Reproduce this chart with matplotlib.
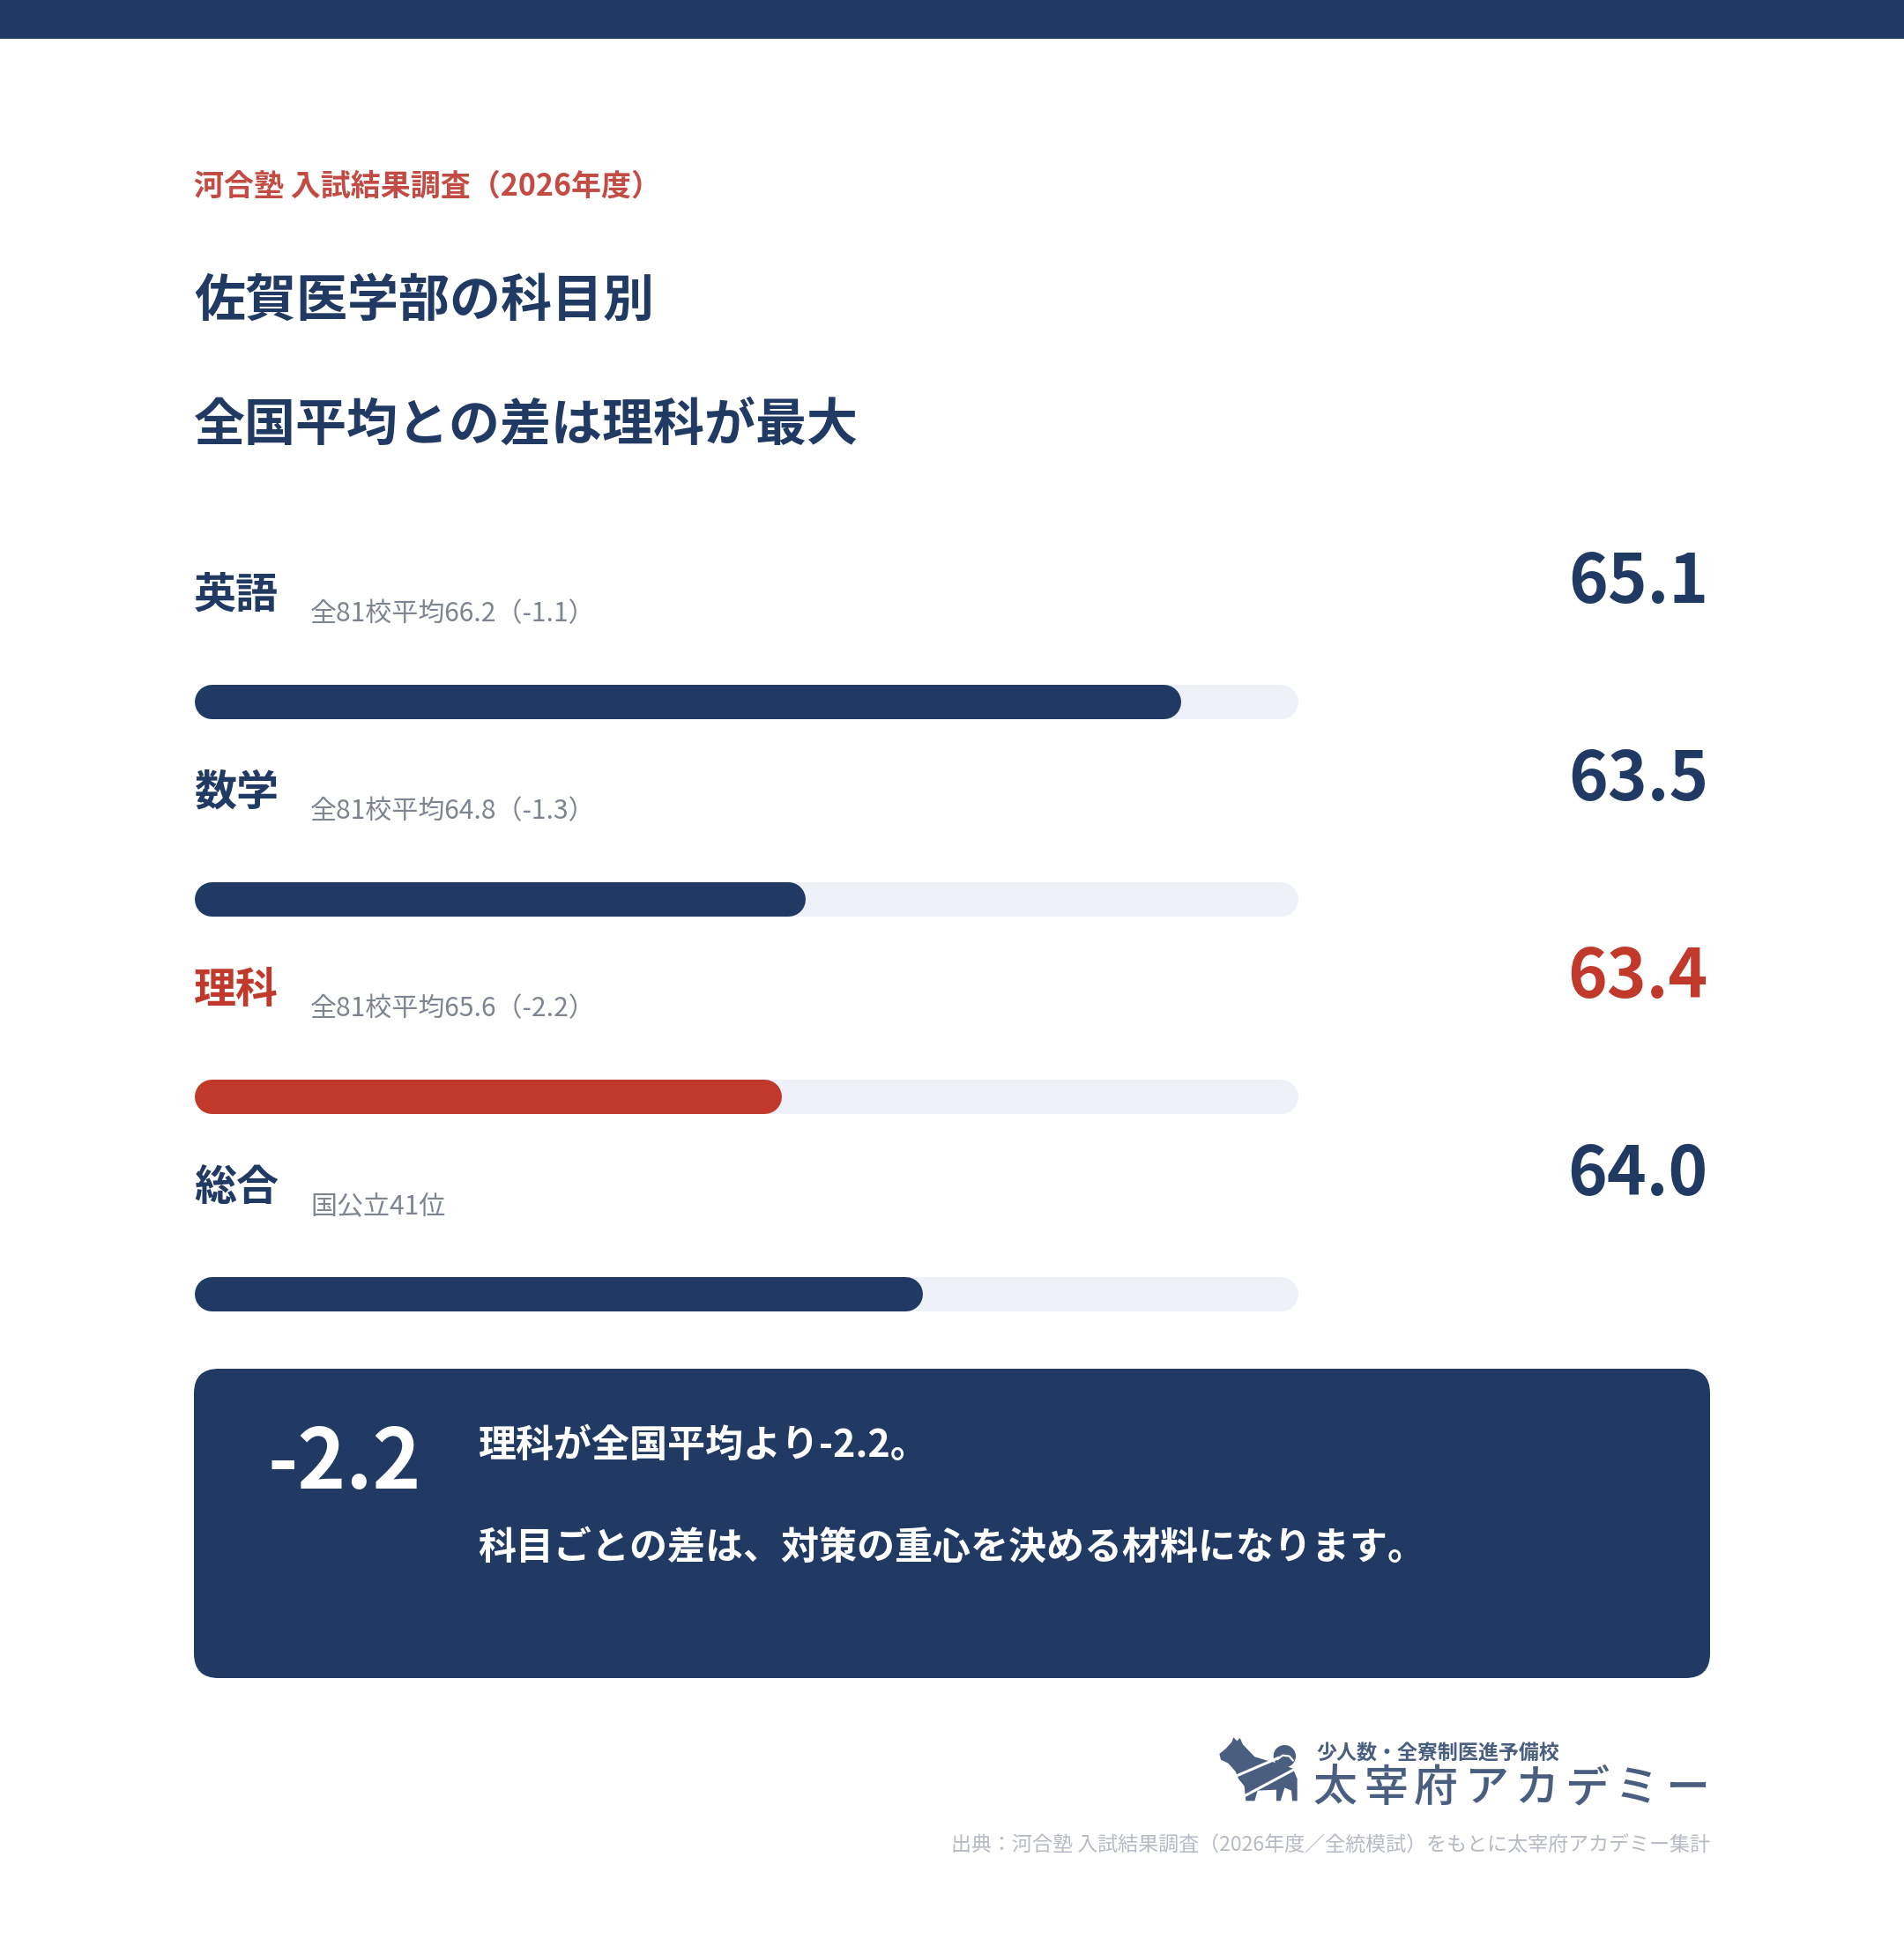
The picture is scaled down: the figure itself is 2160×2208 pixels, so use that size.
import numpy as np
import matplotlib
matplotlib.use("Agg")
import matplotlib.pyplot as plt
from matplotlib.patches import Rectangle, FancyBboxPatch, Polygon, Circle

plt.rcParams['font.family'] = ['Noto Sans CJK JP', 'DejaVu Sans']

# data
subjects = ['英語', '数学', '理科', '総合']
scores = [65.1, 63.5, 63.4, 64.0]
nat_avg = [66.2, 64.8, 65.6, None]
rank_note = '国公立41位'
highlight = '理科'

kicker = '河合塾 入試結果調査（2026年度）'
title_lines = ['佐賀医学部の科目別', '全国平均との差は理科が最大']
box_line2 = '科目ごとの差は、対策の重心を決める材料になります。'
logo_small = '少人数・全寮制医進予備校'
logo_big = '太宰府アカデミー'
source = '出典：河合塾 入試結果調査（2026年度／全統模試）をもとに太宰府アカデミー集計'

NAVY = '#213a63'
RED = '#c0392b'
TRACK = '#eef1f8'
GRAY = '#7d8492'
LOGO = '#4a5e80'

W, H = 2160, 2208
PT = 0.72  # px -> pt at dpi 100

fig = plt.figure(figsize=(W / 100, H / 100), dpi=100)
fig.patch.set_facecolor('white')

# canvas in pixel coords
cv = fig.add_axes([0, 0, 1, 1])
cv.set_xlim(0, W)
cv.set_ylim(H, 0)
cv.axis('off')

cv.add_patch(Rectangle((0, 0), W, 44, color=NAVY, lw=0))

cv.text(220, 211, kicker, color='#c24b43', fontsize=34 * PT, weight='bold', va='center')
for i, line in enumerate(title_lines):
    cv.text(220, 342 + i * 141, line, color=NAVY, fontsize=58 * PT, weight='bold', va='center')

# bars in their own axes
bar_left, bar_w = 220, 1253
lo, hi = 60.9, 65.6
bx = fig.add_axes([bar_left / W, 0, bar_w / W, 1])
bx.set_xlim(lo, hi)
bx.set_ylim(H, 0)
bx.axis('off')
bar_h = 39
r = (bar_h / 2) * (hi - lo) / bar_w

row0, step = 675, 224
diffs = []
for i, (name, val, avg) in enumerate(zip(subjects, scores, nat_avg)):
    col = RED if name == highlight else NAVY
    yl = row0 + i * step
    yb = 796 + i * step
    bx.plot([lo + r, hi - r], [yb, yb], color=TRACK, lw=bar_h * PT, solid_capstyle='round')
    bx.plot([lo + r, val - r], [yb, yb], color=col, lw=bar_h * PT, solid_capstyle='round')

    cv.text(220, yl, name, color=col, fontsize=48 * PT, weight='bold', va='center')
    if avg is not None:
        d = round(val - avg, 1)
        diffs.append(d)
        note = '全81校平均{:.1f}（{:.1f}）'.format(avg, d)
    else:
        note = rank_note
    cv.text(352, yl + 22, note, color=GRAY, fontsize=30 * PT, va='center')
    cv.text(1938, yl - 14, '{:.1f}'.format(val), color=col, fontsize=76 * PT,
            weight='bold', va='center', ha='right')

# summary box
gap = min(diffs)
cv.add_patch(FancyBboxPatch((220, 1553), 1720, 351, boxstyle='round,pad=0,rounding_size=28',
                            color=NAVY, lw=0))
cv.text(303, 1661, '{:.1f}'.format(gap), color='white', fontsize=93 * PT, weight='bold', va='center')
cv.text(542, 1640, '理科が全国平均より{:.1f}。'.format(gap), color='white', fontsize=43 * PT,
        weight='bold', va='center')
cv.text(542, 1756, box_line2, color='white', fontsize=43 * PT, weight='bold', va='center')

# logo: dog silhouette (rough)
def zp(pts):
    return [(1370 + x / 3, 1960 + y / 3) for x, y in pts]

dog = [(40, 90), (62, 72), (82, 50), (88, 34), (100, 46), (110, 36), (120, 58), (160, 100),
       (200, 112), (250, 125), (290, 140), (305, 175), (305, 250), (288, 250), (285, 215),
       (262, 205), (248, 250), (234, 250), (234, 212), (170, 215), (160, 250), (130, 250),
       (125, 200), (105, 175), (95, 150), (70, 122), (45, 110)]
cv.add_patch(Polygon(zp(dog), closed=True, color=LOGO, lw=0))
cv.add_patch(Circle((1370 + 262 / 3, 1960 + 98 / 3), 38 / 3, color=LOGO, lw=0))
for (x1, y1), (x2, y2) in [((98, 165), (240, 104)), ((128, 232), (300, 140))]:
    (a, b), (c, d) = zp([(x1, y1), (x2, y2)])
    cv.plot([a, c], [b, d], color='white', lw=2.2)
cv.plot(*zip(*zp([(238, 108), (256, 95), (278, 98), (290, 112)])), color='white', lw=1.6)

cv.text(1493, 1990, logo_small, color=LOGO, fontsize=23 * PT, weight='bold', va='center')
for k, ch in enumerate(logo_big):
    cv.text(1490 + k * 57, 2030, ch, color=LOGO, fontsize=50 * PT, weight='medium', va='center')

cv.text(1940, 2093, source, color='#b6bac6', fontsize=23 * PT, va='center', ha='right')

fig.savefig('out.png', dpi=100, facecolor='white')
